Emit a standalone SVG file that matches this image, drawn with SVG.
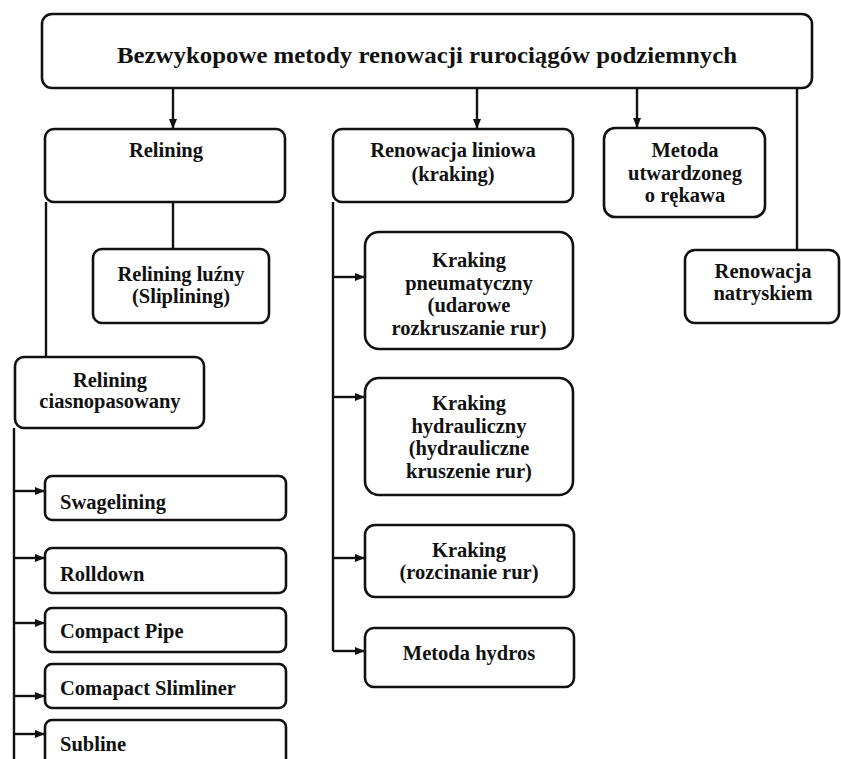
<svg xmlns="http://www.w3.org/2000/svg" width="841" height="759" viewBox="0 0 841 759">
<defs>
<marker id="arr" markerUnits="userSpaceOnUse" markerWidth="10" markerHeight="8" refX="9" refY="4" orient="auto">
<path d="M0,0 L10,4 L0,8 Z" fill="#111"/>
</marker>
<style>
.box{fill:#fff;stroke:#111;stroke-width:2.6}
.t{font-family:"Liberation Serif","Times New Roman",serif;font-weight:bold;font-size:20.5px;fill:#111;text-anchor:middle}
.l{font-family:"Liberation Serif","Times New Roman",serif;font-weight:bold;font-size:20.5px;fill:#111}
.c{fill:none;stroke:#111;stroke-width:2.4}
.a{fill:none;stroke:#111;stroke-width:2.4;marker-end:url(#arr)}
</style>
</defs>
<rect width="841" height="759" fill="#fff"/>
<g id="connectors">
<path class="a" d="M173,88 V128"/>
<path class="a" d="M477,88 V128"/>
<path class="a" d="M637,88 V127"/>
<path class="c" d="M797,88 V250"/>
<path class="c" d="M173,202 V249"/>
<path class="c" d="M46,202 V357"/>
<path class="c" d="M14,428 V759"/>
<path class="a" d="M14,491 H44"/>
<path class="a" d="M14,558 H44"/>
<path class="a" d="M14,623 H44"/>
<path class="a" d="M14,696 H44"/>
<path class="a" d="M14,734 H44"/>
<path class="c" d="M333,202 V651"/>
<path class="a" d="M333,277 H364"/>
<path class="a" d="M333,397 H364"/>
<path class="a" d="M333,558 H364"/>
<path class="a" d="M333,651 H364"/>
</g>
<g id="root">
<rect class="box" x="42" y="14" width="770" height="74" rx="10"/>
<text class="t" x="427" y="63" font-size="24" textLength="620" lengthAdjust="spacingAndGlyphs" style="font-size:24px">Bezwykopowe metody renowacji rurociągów podziemnych</text>
</g>
<g id="relining">
<rect class="box" x="45" y="129" width="240" height="73" rx="9"/>
<text class="t" x="166" y="157">Relining</text>
</g>
<g id="relining-luzny">
<rect class="box" x="93" y="249" width="176" height="74" rx="9"/>
<text class="t" x="181" y="281">Relining luźny</text>
<text class="t" x="181" y="303">(Sliplining)</text>
</g>
<g id="relining-ciasno">
<rect class="box" x="15" y="357" width="189" height="71" rx="9"/>
<text class="t" x="110" y="387">Relining</text>
<text class="t" x="110" y="408">ciasnopasowany</text>
</g>
<g id="swagelining">
<rect class="box" x="45" y="476" width="241" height="44" rx="7"/>
<text class="l" x="60" y="509">Swagelining</text>
</g>
<g id="rolldown">
<rect class="box" x="45" y="548" width="241" height="45" rx="7"/>
<text class="l" x="60" y="581">Rolldown</text>
</g>
<g id="compact-pipe">
<rect class="box" x="45" y="608" width="241" height="44" rx="7"/>
<text class="l" x="60" y="638">Compact Pipe</text>
</g>
<g id="comapact-slimliner">
<rect class="box" x="45" y="664" width="241" height="44" rx="7"/>
<text class="l" x="60" y="695">Comapact Slimliner</text>
</g>
<g id="subline">
<rect class="box" x="45" y="720" width="241" height="60" rx="7"/>
<text class="l" x="60" y="751">Subline</text>
</g>
<g id="renowacja-liniowa">
<rect class="box" x="333" y="129" width="240" height="73" rx="9"/>
<text class="t" x="453" y="157">Renowacja liniowa</text>
<text class="t" x="453" y="181">(kraking)</text>
</g>
<g id="kraking-pneumatyczny">
<rect class="box" x="365" y="232" width="208" height="117" rx="14"/>
<text class="t" x="469" y="267">Kraking</text>
<text class="t" x="469" y="290">pneumatyczny</text>
<text class="t" x="469" y="312">(udarowe</text>
<text class="t" x="469" y="335">rozkruszanie rur)</text>
</g>
<g id="kraking-hydrauliczny">
<rect class="box" x="365" y="378" width="208" height="117" rx="14"/>
<text class="t" x="469" y="410">Kraking</text>
<text class="t" x="469" y="433">hydrauliczny</text>
<text class="t" x="469" y="455">(hydrauliczne</text>
<text class="t" x="469" y="478">kruszenie rur)</text>
</g>
<g id="kraking-rozcinanie">
<rect class="box" x="365" y="525" width="209" height="72" rx="10"/>
<text class="t" x="469" y="557">Kraking</text>
<text class="t" x="469" y="579">(rozcinanie rur)</text>
</g>
<g id="metoda-hydros">
<rect class="box" x="365" y="628" width="209" height="59" rx="9"/>
<text class="t" x="469" y="660">Metoda hydros</text>
</g>
<g id="metoda-utwardzoneg">
<rect class="box" x="604" y="128" width="161" height="89" rx="11"/>
<text class="t" x="685" y="157">Metoda</text>
<text class="t" x="685" y="180">utwardzoneg</text>
<text class="t" x="685" y="202">o rękawa</text>
</g>
<g id="renowacja-natryskiem">
<rect class="box" x="685" y="250" width="154" height="73" rx="10"/>
<text class="t" x="763" y="278">Renowacja</text>
<text class="t" x="763" y="300">natryskiem</text>
</g>
</svg>
